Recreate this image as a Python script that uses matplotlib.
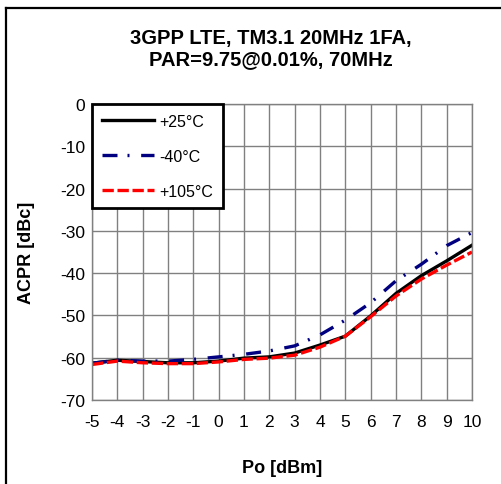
import matplotlib
matplotlib.use("Agg")
import matplotlib.pyplot as plt
from matplotlib.lines import Line2D
import numpy as np

plt.rcParams['font.family'] = ['Liberation Sans', 'DejaVu Sans']
plt.rcParams['axes.unicode_minus'] = False

po = [-5, -4, -3, -2, -1, 0, 1, 2, 3, 4, 5, 6, 7, 8, 9, 10]
acpr_25 = [-61.3, -60.6, -60.9, -61.2, -61.2, -60.8, -60.1, -59.8, -58.9, -57.0, -54.9, -50.1, -44.8, -40.6, -37.1, -33.4]
acpr_m40 = [-61.3, -60.6, -60.8, -60.8, -60.4, -59.8, -59.2, -58.4, -57.2, -54.6, -51.1, -47.0, -41.8, -37.9, -33.5, -30.4]
acpr_105 = [-61.6, -60.8, -61.2, -61.4, -61.4, -61.0, -60.4, -60.1, -59.4, -57.5, -54.9, -50.3, -45.4, -41.4, -38.1, -35.0]
labels = ['+25°C', '-40°C', '+105°C']
title = '3GPP LTE, TM3.1 20MHz 1FA,\nPAR=9.75@0.01%, 70MHz'

W, H = 502, 485
fig = plt.figure(figsize=(W / 100, H / 100), dpi=100)
# outer frame (top and left edges visible)
fig.lines.append(Line2D([6 / W, 1.0], [1 - 8.5 / H] * 2, transform=fig.transFigure,
                        color='black', lw=1.6))
fig.lines.append(Line2D([6 / W] * 2, [0.0, 1 - 8.5 / H], transform=fig.transFigure,
                        color='black', lw=1.6))

ax = fig.add_axes([92 / W, 1 - 401 / H, 380 / W, 296 / H])

ax.plot(po, acpr_25, color='black', lw=2.4, label=labels[0])
ax.plot(po, acpr_m40, color='#000080', lw=2.4, dashes=(4.5, 3.0, 0.6, 3.5), label=labels[1])
ax.plot(po, acpr_105, color='#ff0000', lw=2.4, dashes=(3.4, 1.1), label=labels[2])

ax.set_xlim(-5, 10)
ax.set_ylim(-70, 0)
ax.set_xticks(np.arange(-5, 11, 1))
ax.set_yticks(np.arange(-70, 1, 10))
ax.grid(True, color='#808080', lw=1)
ax.set_axisbelow(True)
for s in ax.spines.values():
    s.set_color('#808080')
    s.set_linewidth(1)
ax.tick_params(axis='both', labelsize=12.5, length=0)
ax.tick_params(axis='y', pad=5)
ax.tick_params(axis='x', pad=10)
ax.set_xlabel('Po [dBm]', fontsize=13, fontweight='bold', labelpad=22)
ax.set_ylabel('ACPR [dBc]', fontsize=13, fontweight='bold', labelpad=18)

fig.text(271 / W, 1 - 49 / H, title, ha='center', va='center', fontsize=14.5,
         fontweight='bold', linespacing=1.15)

leg = ax.legend(loc='upper left', bbox_to_anchor=(0, 1), borderaxespad=0, fontsize=11.5,
                frameon=True, fancybox=False, edgecolor='black', framealpha=1,
                handlelength=3.3, labelspacing=1.25, borderpad=0.6, handletextpad=0.3)
leg.get_frame().set_linewidth(2)

fig.savefig('out.png', dpi=100)
